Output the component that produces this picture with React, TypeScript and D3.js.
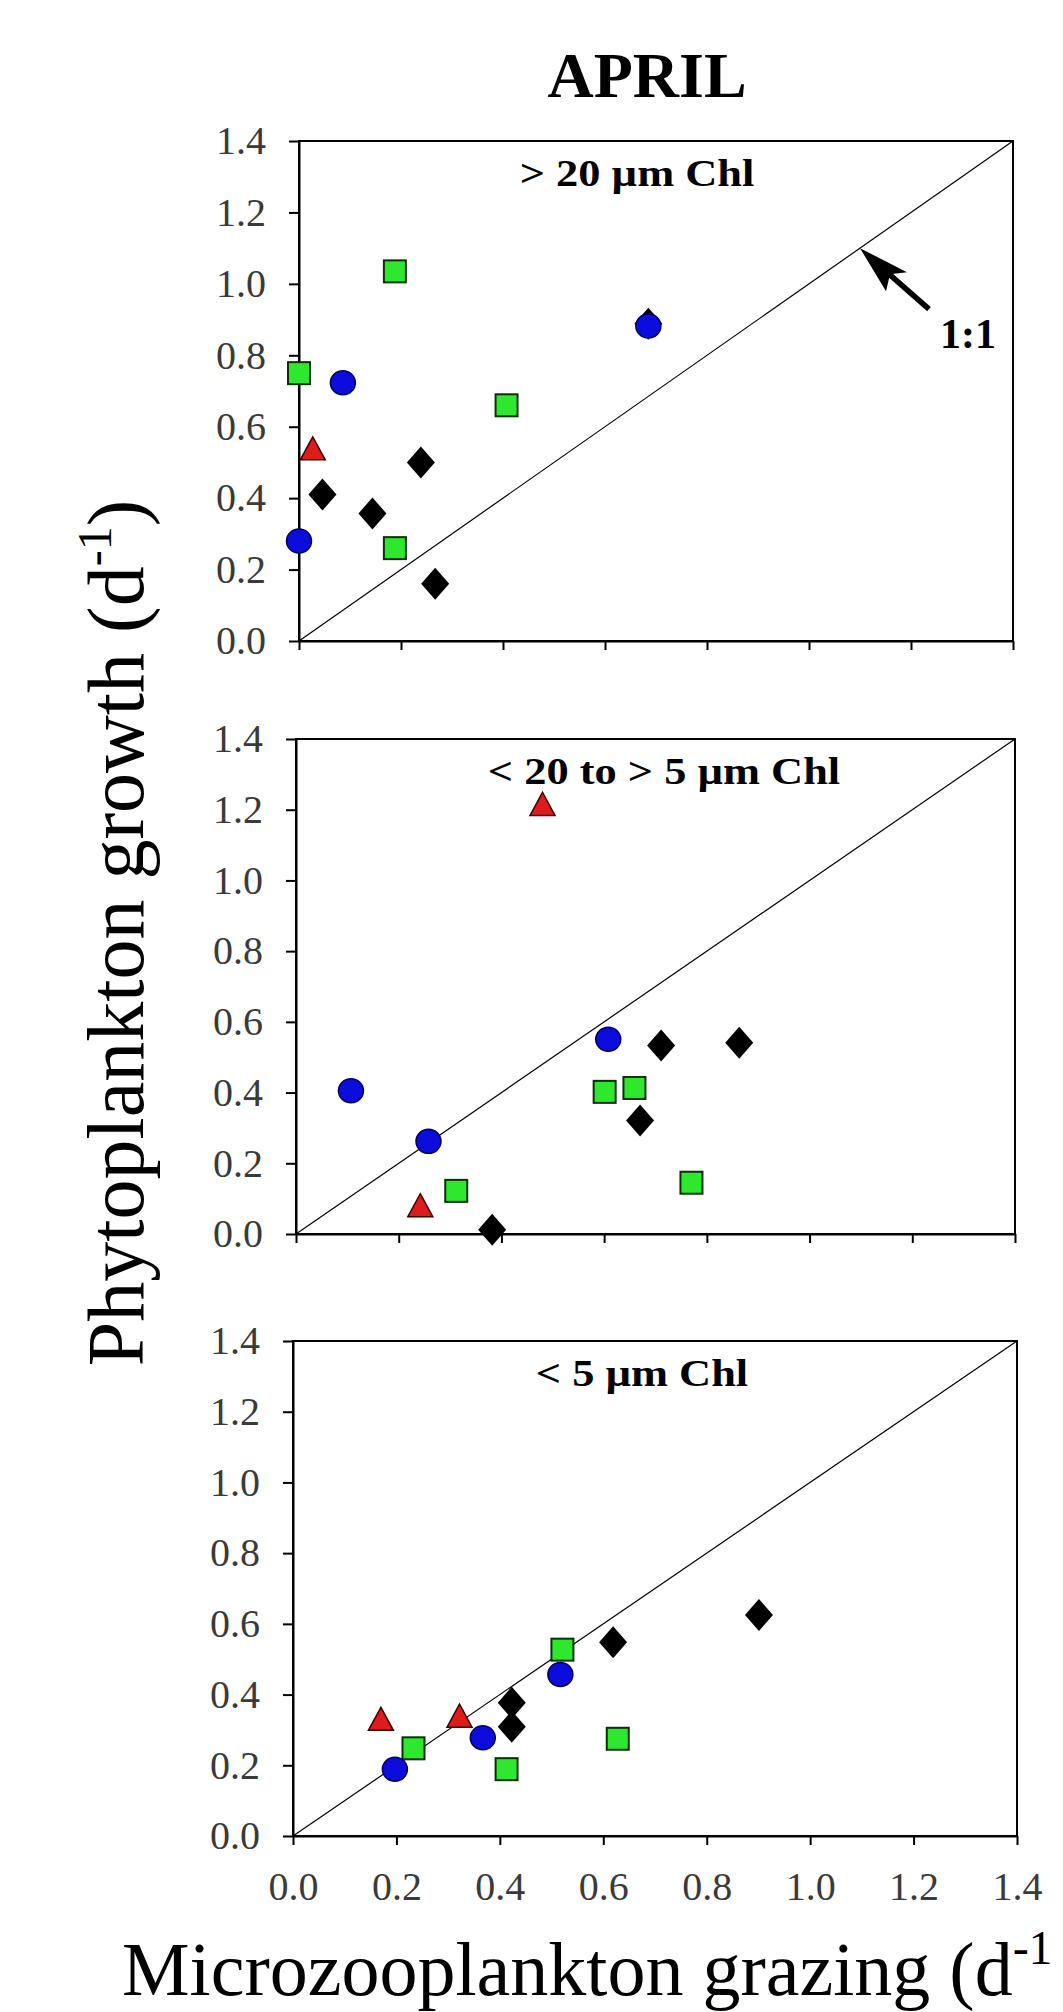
import React, { useEffect, useRef } from "react";
import * as d3 from "d3";

// axis ticks (both axes run 0 - 1.4 d-1)
const axisTicks = [0, 0.2, 0.4, 0.6, 0.8, 1.0, 1.2, 1.4];
const panelLabels = ["> 20 \u00b5m Chl", "< 20 to > 5 \u00b5m Chl", "< 5 \u00b5m Chl"];

// panel 1: > 20 um Chl   [grazing, growth]
const p1Diamond = [[0.685, 0.888], [0.046, 0.41], [0.144, 0.357], [0.239, 0.5], [0.267, 0.16]];
const p1Square = [[0.188, 1.035], [0.0, 0.75], [0.407, 0.66], [0.188, 0.26]];
const p1Circle = [[0.086, 0.723], [0.0, 0.28], [0.685, 0.882]];
const p1Triangle = [[0.027, 0.538]];

// panel 2: < 20 to > 5 um Chl
const p2Diamond = [[0.382, 0.012], [0.711, 0.533], [0.863, 0.541], [0.67, 0.321]];
const p2Square = [[0.312, 0.122], [0.601, 0.402], [0.659, 0.413], [0.77, 0.145]];
const p2Circle = [[0.107, 0.405], [0.258, 0.262], [0.608, 0.551]];
const p2Triangle = [[0.48, 1.215], [0.242, 0.08]];

// panel 3: < 5 um Chl
const p3Diamond = [[0.423, 0.377], [0.423, 0.309], [0.619, 0.548], [0.901, 0.625]];
const p3Square = [[0.233, 0.248], [0.413, 0.189], [0.521, 0.527], [0.628, 0.275]];
const p3Circle = [[0.197, 0.189], [0.367, 0.278], [0.517, 0.457]];
const p3Triangle = [[0.17, 0.33], [0.322, 0.339]];

const panelData = [
  { diamond: p1Diamond, square: p1Square, circle: p1Circle, triangle: p1Triangle },
  { diamond: p2Diamond, square: p2Square, circle: p2Circle, triangle: p2Triangle },
  { diamond: p3Diamond, square: p3Square, circle: p3Circle, triangle: p3Triangle },
];

// pixel frames of the three panels (the scan is slightly skewed)
const layout = [
  { left: 299, right: 1013, top: 141, bottom: 641, labelX: 637 },
  { left: 296, right: 1015, top: 739, bottom: 1234, labelX: 664 },
  { left: 293, right: 1017, top: 1341, bottom: 1836, labelX: 642 },
];

const serif = "'Liberation Serif', 'Times New Roman', serif";

function App() {
  const ref = useRef(null);

  useEffect(() => {
    const svg = d3.select(ref.current);
    svg.selectAll("*").remove();

    svg.append("rect").attr("width", 1063).attr("height", 2012).attr("fill", "#fff");

    svg
      .append("text")
      .attr("x", 647)
      .attr("y", 97)
      .attr("text-anchor", "middle")
      .attr("font-family", serif)
      .attr("font-weight", "bold")
      .attr("font-size", 64)
      .text("APRIL");

    layout.forEach((L, i) => {
      const x = d3.scaleLinear().domain([0, 1.4]).range([L.left, L.right]);
      const y = d3.scaleLinear().domain([0, 1.4]).range([L.bottom, L.top]);
      const g = svg.append("g").attr("class", "panel_" + i);

      // frame
      g.append("rect")
        .attr("x", L.left)
        .attr("y", L.top)
        .attr("width", L.right - L.left)
        .attr("height", L.bottom - L.top)
        .attr("fill", "none")
        .attr("stroke", "#000")
        .attr("stroke-width", 2);

      // y axis
      const ya = g
        .append("g")
        .attr("transform", `translate(${L.left},0)`)
        .call(
          d3.axisLeft(y).tickValues(axisTicks).tickSize(10).tickSizeOuter(0).tickPadding(23).tickFormat(d3.format(".1f"))
        );
      ya.select(".domain").attr("stroke-width", 2);
      ya.selectAll(".tick line").attr("stroke-width", 2);
      ya.selectAll("text").attr("font-family", serif).attr("font-size", 40).attr("fill", "#3a3a3a");

      // x axis
      const xa = g
        .append("g")
        .attr("transform", `translate(0,${L.bottom})`)
        .call(
          d3
            .axisBottom(x)
            .tickValues(axisTicks)
            .tickSize(9)
            .tickSizeOuter(0)
            .tickPadding(27)
            .tickFormat(i === 2 ? d3.format(".1f") : () => "")
        );
      xa.select(".domain").attr("stroke-width", 2);
      xa.selectAll(".tick line").attr("stroke-width", 2);
      xa.selectAll("text").attr("font-family", serif).attr("font-size", 40).attr("fill", "#3a3a3a");

      // 1:1 line
      g.append("line")
        .attr("x1", x(0))
        .attr("y1", y(0))
        .attr("x2", x(1.4))
        .attr("y2", y(1.4))
        .attr("stroke", "#000")
        .attr("stroke-width", 1.2);

      // panel label
      g.append("text")
        .attr("transform", `translate(${L.labelX},${L.top + 45}) scale(1.2,1)`)
        .attr("text-anchor", "middle")
        .attr("font-family", serif)
        .attr("font-weight", "bold")
        .attr("font-size", 37)
        .text(panelLabels[i]);

      if (i === 0) {
        const tx = x(1.1),
          ty = y(1.1);
        g.append("line")
          .attr("x1", tx + 20)
          .attr("y1", ty + 18)
          .attr("x2", tx + 69)
          .attr("y2", ty + 61)
          .attr("stroke", "#000")
          .attr("stroke-width", 5.5);
        g.append("path")
          .attr(
            "d",
            `M${tx},${ty} L${tx + 47},${ty + 24} L${tx + 30},${ty + 26} L${tx + 26},${ty + 43} Z`
          )
          .attr("fill", "#000");
        g.append("text")
          .attr("x", tx + 108)
          .attr("y", ty + 100)
          .attr("text-anchor", "middle")
          .attr("font-family", serif)
          .attr("font-weight", "bold")
          .attr("font-size", 42)
          .text("1:1");
      }

      const D = panelData[i];

      g.selectAll(".diamond")
        .data(D.diamond)
        .join("path")
        .attr("class", "diamond")
        .attr("d", (d) => {
          const cx = x(d[0]),
            cy = y(d[1]);
          return `M${cx},${cy - 16} L${cx + 14},${cy} L${cx},${cy + 16} L${cx - 14},${cy} Z`;
        })
        .attr("fill", "#000");

      g.selectAll(".square")
        .data(D.square)
        .join("rect")
        .attr("class", "square")
        .attr("x", (d) => x(d[0]) - 11)
        .attr("y", (d) => y(d[1]) - 11)
        .attr("width", 22)
        .attr("height", 22)
        .attr("fill", "#2ee82e")
        .attr("stroke", "#0a300a")
        .attr("stroke-width", 2);

      g.selectAll(".circle")
        .data(D.circle)
        .join("ellipse")
        .attr("class", "circle")
        .attr("cx", (d) => x(d[0]))
        .attr("cy", (d) => y(d[1]))
        .attr("rx", 12.5)
        .attr("ry", 12)
        .attr("fill", "#0c0cdc")
        .attr("stroke", "#00005a")
        .attr("stroke-width", 1.5);

      g.selectAll(".triangle")
        .data(D.triangle)
        .join("path")
        .attr("class", "triangle")
        .attr("d", (d) => {
          const cx = x(d[0]),
            cy = y(d[1]);
          return `M${cx},${cy - 12} L${cx + 12.5},${cy + 11} L${cx - 12.5},${cy + 11} Z`;
        })
        .attr("fill", "#dd1c1c")
        .attr("stroke", "#3a0000")
        .attr("stroke-width", 1.5);
    });

    // y title
    const yt = svg
      .append("text")
      .attr("transform", "translate(143,933) rotate(-90)")
      .attr("text-anchor", "middle")
      .attr("font-family", serif)
      .attr("font-size", 80);
    yt.append("tspan").text("Phytoplankton growth (d");
    yt.append("tspan").attr("font-size", 48).attr("dy", -32).text("-1");
    yt.append("tspan").attr("dy", 32).text(")");

    // x title (the closing bracket falls outside the original picture)
    const xt = svg
      .append("text")
      .attr("x", 122)
      .attr("y", 1995)
      .attr("font-family", serif)
      .attr("font-size", 76);
    xt.append("tspan").text("Microzooplankton grazing (d");
    xt.append("tspan").attr("font-size", 48).attr("dy", -31).text("-1");
  }, []);

  return (
    <svg
      ref={ref}
      width={1063}
      height={2012}
      style={{ position: "absolute", left: 0, top: 0, display: "block" }}
    ></svg>
  );
}

export default App;
